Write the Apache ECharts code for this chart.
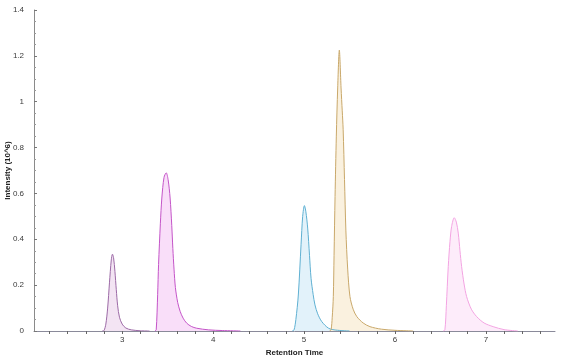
<!DOCTYPE html>
<html>
<head>
<meta charset="utf-8">
<script src="https://cdn.jsdelivr.net/npm/echarts@6/dist/echarts.min.js"></script>
<style>
html,body{margin:0;padding:0;background:#fff;}
#c{width:563px;height:361px;}
</style>
</head>
<body>
<div id="c"></div>
<script>
// Retention time (x) / intensity in 10^6 (y)
var peak1 = [[2.78,0],[2.80,0.002],[2.82,0.03],[2.84,0.10],[2.86,0.21],[2.88,0.31],[2.893,0.335],[2.905,0.32],[2.92,0.26],[2.935,0.18],[2.95,0.11],[2.97,0.06],[3.0,0.03],[3.04,0.013],[3.1,0.005],[3.2,0.001],[3.3,0]];
var peak2 = [[3.36,0],[3.374,0.005],[3.39,0.16],[3.40,0.29],[3.42,0.47],[3.436,0.58],[3.46,0.67],[3.484,0.69],[3.505,0.66],[3.527,0.58],[3.545,0.46],[3.557,0.36],[3.57,0.27],[3.585,0.19],[3.61,0.125],[3.637,0.086],[3.67,0.056],[3.71,0.034],[3.76,0.02],[3.82,0.012],[3.95,0.005],[4.1,0.002],[4.3,0]];
var peak3 = [[4.87,0],[4.89,0.005],[4.91,0.05],[4.937,0.157],[4.967,0.376],[4.985,0.50],[5.004,0.547],[5.02,0.52],[5.04,0.449],[5.06,0.33],[5.077,0.23],[5.10,0.16],[5.12,0.114],[5.15,0.075],[5.195,0.041],[5.27,0.012],[5.35,0.004],[5.5,0]];
var peak4 = [[5.28,0],[5.297,0.005],[5.31,0.06],[5.322,0.15],[5.33,0.33],[5.341,0.587],[5.355,0.85],[5.37,1.06],[5.388,1.225],[5.407,1.06],[5.42,0.96],[5.43,0.88],[5.445,0.66],[5.46,0.44],[5.48,0.27],[5.505,0.15],[5.54,0.095],[5.58,0.063],[5.65,0.035],[5.725,0.019],[5.85,0.008],[6.0,0.003],[6.2,0]];
var peak5 = [[6.53,0],[6.549,0.005],[6.565,0.11],[6.586,0.281],[6.605,0.39],[6.623,0.456],[6.652,0.494],[6.675,0.475],[6.696,0.427],[6.715,0.35],[6.733,0.281],[6.76,0.205],[6.788,0.15],[6.84,0.095],[6.898,0.063],[6.98,0.035],[7.08,0.019],[7.2,0.006],[7.35,0]];
var peaks = [peak1, peak2, peak3, peak4, peak5];
var lineColors = ['#9c6aa6', '#c455c8', '#5fb0d2', '#c9a86a', '#f3a4e2'];
var fillColors = ['#f3e4f3', '#f9def9', '#e2f2fa', '#faf1df', '#fdecfa'];
var xLabels = [3, 4, 5, 6, 7];
var xTicks = [2.2,2.4,2.6,2.8,3,3.2,3.4,3.6,3.8,4,4.2,4.4,4.6,4.8,5,5.2,5.4,5.6,5.8,6,6.2,6.4,6.6,6.8,7,7.2,7.4,7.6];

var chart = echarts.init(document.getElementById('c'), null, {renderer: 'canvas'});
var font = 'Liberation Sans, Arial, sans-serif';
chart.setOption({
  animation: false,
  grid: {left: 34, right: 8, top: 10, bottom: 30, outerBoundsMode: 'none', containLabel: false},
  xAxis: {
    type: 'value', min: 2.03, max: 7.76,
    name: 'Retention Time', nameLocation: 'middle', nameGap: 18, nameMoveOverlap: false,
    nameTextStyle: {fontFamily: font, fontSize: 8, fontWeight: 'bold', color: '#222'},
    axisLine: {show: true, lineStyle: {color: '#8a8a9a', width: 1}},
    axisTick: {show: true, customValues: xTicks, length: 3, lineStyle: {color: '#666'}},
    axisLabel: {customValues: xLabels, fontFamily: font, fontSize: 8, color: '#3a3a3a', margin: 5},
    splitLine: {show: false}
  },
  yAxis: {
    type: 'value', min: 0, max: 1.4, interval: 0.2,
    name: 'Intensity (10^6)', nameLocation: 'middle', nameGap: 22, nameMoveOverlap: false,
    nameTextStyle: {fontFamily: font, fontSize: 8, fontWeight: 'bold', color: '#222'},
    axisLine: {show: true, lineStyle: {color: '#8a8a8a', width: 1}},
    axisTick: {show: true, inside: true, length: 3, lineStyle: {color: '#777'}},
    minorTick: {show: true, splitNumber: 4, length: 2, lineStyle: {color: '#999'}},
    axisLabel: {fontFamily: font, fontSize: 8, color: '#3a3a3a', margin: 10},
    splitLine: {show: false}
  },
  series: peaks.map(function (p, i) {
    return {
      type: 'line', data: p, smooth: 0.3, showSymbol: false, silent: true,
      lineStyle: {color: lineColors[i], width: 1},
      itemStyle: {color: lineColors[i]},
      areaStyle: {color: fillColors[i], opacity: 1}
    };
  })
});
</script>
</body>
</html>
